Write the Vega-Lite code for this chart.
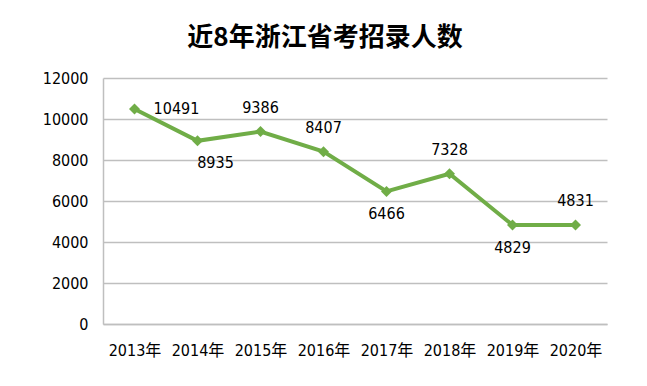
{
  "$schema": "https://vega.github.io/schema/vega-lite/v6.json",
  "width": 504,
  "height": 246,
  "autosize": "none",
  "padding": {"left": 103, "top": 78, "right": 40, "bottom": 62},
  "background": "white",
  "title": {
    "text": "近8年浙江省考招录人数",
    "font": "Noto Sans CJK SC",
    "fontSize": 26,
    "fontWeight": "bold",
    "color": "#000000",
    "anchor": "middle",
    "dx": -30,
    "offset": 19
  },
  "data": {
    "values": [
      {"year": "2013年", "count": 10491},
      {"year": "2014年", "count": 8935},
      {"year": "2015年", "count": 9386},
      {"year": "2016年", "count": 8407},
      {"year": "2017年", "count": 6466},
      {"year": "2018年", "count": 7328},
      {"year": "2019年", "count": 4829},
      {"year": "2020年", "count": 4831}
    ]
  },
  "encoding": {
    "x": {
      "field": "year", "type": "nominal", "sort": null, "title": null,
      "scale": {"paddingInner": 0, "paddingOuter": 0},
      "axis": {"labelAngle": 0, "labelFont": "DejaVu Sans Condensed, Noto Sans CJK SC", "labelFontSize": 16, "labelColor": "#000", "labelPadding": 18, "ticks": false, "domainColor": "#bfbfbf", "domainWidth": 1.5}
    },
    "y": {
      "field": "count", "type": "quantitative", "title": null,
      "scale": {"domain": [0, 12000]},
      "axis": {"values": [0, 2000, 4000, 6000, 8000, 10000, 12000], "labelFont": "DejaVu Sans Condensed", "labelFontSize": 16, "labelColor": "#000", "labelPadding": 15, "ticks": false, "domainColor": "#bfbfbf", "domainWidth": 1.5, "gridColor": "#bfbfbf", "gridWidth": 1.5, "format": "d"}
    }
  },
  "layer": [
    {"mark": {"type": "line", "color": "#70ad47", "strokeWidth": 4}},
    {"mark": {"type": "point", "shape": "diamond", "filled": true, "color": "#70ad47", "size": 120, "opacity": 1}},
    {
      "transform": [{"filter": "datum.year == '2013年'"}],
      "mark": {"type": "text", "font": "DejaVu Sans Condensed", "fontSize": 16, "color": "#000", "align": "center", "dx": 42, "dy": 0},
      "encoding": {"text": {"field": "count", "type": "quantitative", "format": "d"}}
    },
    {
      "transform": [{"filter": "datum.year == '2014年'"}],
      "mark": {"type": "text", "font": "DejaVu Sans Condensed", "fontSize": 16, "color": "#000", "align": "center", "dx": 18, "dy": 22},
      "encoding": {"text": {"field": "count", "type": "quantitative", "format": "d"}}
    },
    {
      "transform": [{"filter": "indexof(['2017年','2019年'], datum.year) >= 0"}],
      "mark": {"type": "text", "font": "DejaVu Sans Condensed", "fontSize": 16, "color": "#000", "align": "center", "dy": 23},
      "encoding": {"text": {"field": "count", "type": "quantitative", "format": "d"}}
    },
    {
      "transform": [{"filter": "indexof(['2015年','2016年','2018年','2020年'], datum.year) >= 0"}],
      "mark": {"type": "text", "font": "DejaVu Sans Condensed", "fontSize": 16, "color": "#000", "align": "center", "dy": -24},
      "encoding": {"text": {"field": "count", "type": "quantitative", "format": "d"}}
    }
  ],
  "config": {"view": {"stroke": null}}
}
